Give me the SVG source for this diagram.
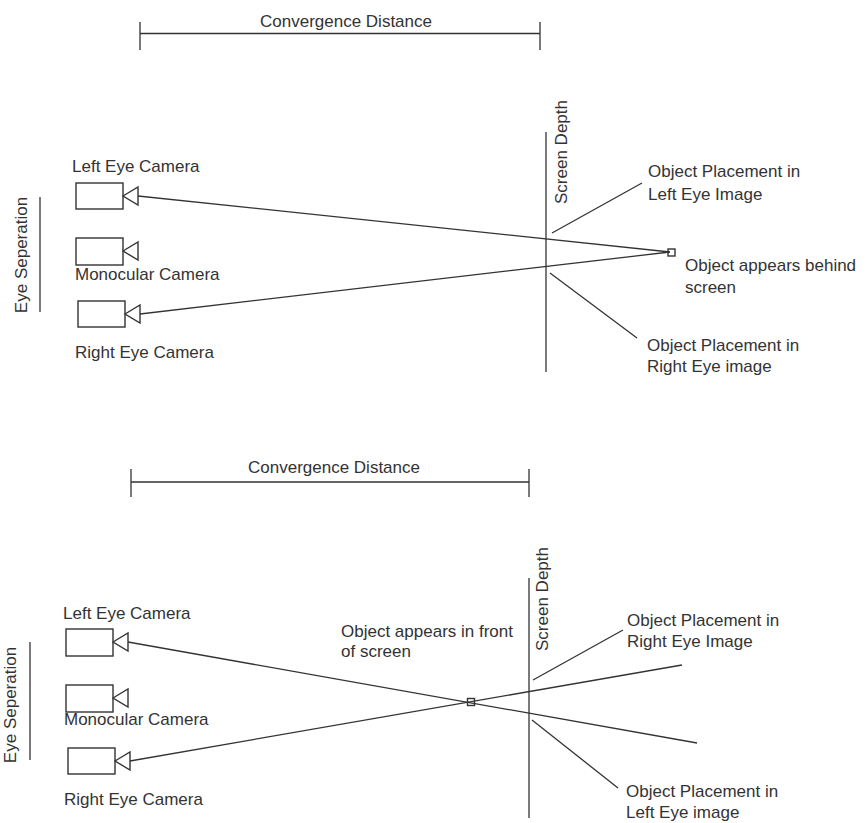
<svg xmlns="http://www.w3.org/2000/svg" width="866" height="823" viewBox="0 0 866 823">
<style>
.t{font-family:"Liberation Sans",Arial,sans-serif;font-size:17px;fill:#333}
.ln{stroke:#333;stroke-width:1.3;fill:none}
.cam{fill:#fff;stroke:#333;stroke-width:1.4}
</style>
<rect width="866" height="823" fill="#fff"/>
<g id="top-diagram">
  <g id="top-convergence">
    <path class="ln" d="M140 33.5H540M140 22V50M540 22V50"/>
    <text class="t" x="260" y="27">Convergence Distance</text>
  </g>
  <g id="top-eye-sep">
    <path class="ln" d="M40 197V312"/>
    <text class="t" transform="translate(27 255) rotate(-90)" text-anchor="middle">Eye Seperation</text>
  </g>
  <g id="top-left-cam">
    <rect class="cam" x="76" y="183" width="47" height="26"/>
    <polygon class="cam" points="123,196 138,187 138,205"/>
    <text class="t" x="72" y="172">Left Eye Camera</text>
  </g>
  <g id="top-mono-cam">
    <rect class="cam" x="76" y="238" width="47" height="27"/>
    <polygon class="cam" points="123,251 138,242 138,260"/>
    <text class="t" x="75" y="280">Monocular Camera</text>
  </g>
  <g id="top-right-cam">
    <rect class="cam" x="78" y="301" width="47" height="26"/>
    <polygon class="cam" points="125,314 140,305 140,323"/>
    <text class="t" x="75" y="358">Right Eye Camera</text>
  </g>
  <g id="top-screen">
    <path class="ln" d="M546 132V372"/>
    <text class="t" transform="translate(567 152) rotate(-90)" text-anchor="middle">Screen Depth</text>
  </g>
  <g id="top-object">
    <rect class="cam" x="668" y="249" width="7" height="7" stroke-width="1.2"/>
    <text class="t" x="685" y="271">Object appears behind</text>
    <text class="t" x="685" y="293">screen</text>
  </g>
  <g id="top-label-left">
    <text class="t" x="648" y="177">Object Placement in</text>
    <text class="t" x="648" y="200">Left Eye Image</text>
  </g>
  <g id="top-label-right">
    <text class="t" x="647" y="351">Object Placement in</text>
    <text class="t" x="647" y="372">Right Eye image</text>
  </g>
</g>
<g id="bottom-diagram">
  <g id="bot-convergence">
    <path class="ln" d="M131 482H529M131 469V497M529 469V497"/>
    <text class="t" x="248" y="473">Convergence Distance</text>
  </g>
  <g id="bot-eye-sep">
    <path class="ln" d="M30 642V760"/>
    <text class="t" transform="translate(16 705) rotate(-90)" text-anchor="middle">Eye Seperation</text>
  </g>
  <g id="bot-left-cam">
    <rect class="cam" x="66" y="629" width="47" height="27"/>
    <polygon class="cam" points="113,642 128,633 128,651"/>
    <text class="t" x="63" y="619">Left Eye Camera</text>
  </g>
  <g id="bot-mono-cam">
    <rect class="cam" x="66" y="685" width="47" height="27"/>
    <polygon class="cam" points="113,698 128,689 128,707"/>
    <text class="t" x="64" y="725">Monocular Camera</text>
  </g>
  <g id="bot-right-cam">
    <rect class="cam" x="68" y="748" width="47" height="26"/>
    <polygon class="cam" points="115,761 130,752 130,770"/>
    <text class="t" x="64" y="805">Right Eye Camera</text>
  </g>
  <g id="bot-screen">
    <path class="ln" d="M529 578V818"/>
    <text class="t" transform="translate(548 599) rotate(-90)" text-anchor="middle">Screen Depth</text>
  </g>
  <g id="bot-object">
    <rect class="cam" x="467.5" y="698.5" width="7" height="7" stroke-width="1.2"/>
    <text class="t" x="341" y="637">Object appears in front</text>
    <text class="t" x="341" y="657">of screen</text>
  </g>
  <g id="bot-label-right">
    <text class="t" x="627" y="626">Object Placement in</text>
    <text class="t" x="627" y="647">Right Eye Image</text>
  </g>
  <g id="bot-label-left">
    <text class="t" x="626" y="797">Object Placement in</text>
    <text class="t" x="626" y="818">Left Eye image</text>
  </g>
</g>
<g id="connectors">
  <path class="ln" d="M138 196L670 252"/>
  <path class="ln" d="M140 314L670 252"/>
  <path class="ln" d="M552 233L642 183"/>
  <path class="ln" d="M550 273L637 338"/>
  <path class="ln" d="M128 642L697 743"/>
  <path class="ln" d="M130 761L682 665"/>
  <path class="ln" d="M533 680L623 630"/>
  <path class="ln" d="M532 720L618 788"/>
</g>
</svg>
